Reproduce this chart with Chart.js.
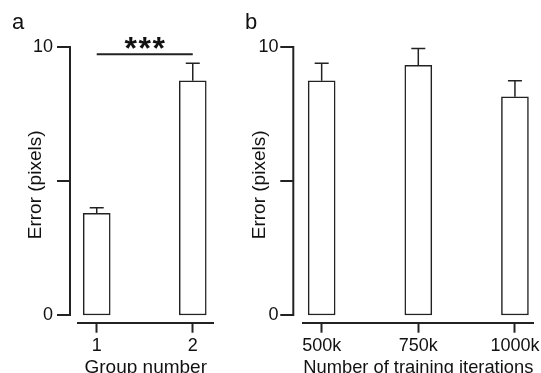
<!DOCTYPE html>
<html>
<head>
<meta charset="utf-8">
<script src="https://cdn.jsdelivr.net/npm/chart.js@4.4.1/dist/chart.umd.min.js"></script>
<style>
  html, body { margin: 0; padding: 0; background: #fff; }
  #wrap { position: relative; width: 541px; height: 373px; overflow: hidden; }
  canvas { position: absolute; top: 0; }
  #chartA { left: 0; }
  #chartB { left: 230px; }
</style>
</head>
<body>
<div id="wrap">
  <canvas id="chartA" width="230" height="373"></canvas>
  <canvas id="chartB" width="311" height="373"></canvas>
</div>
<script>
// panel a
const groupLabels = ["1", "2"];
const groupMeans = [3.79, 8.74];
const groupErrors = [0.21, 0.65];

// panel b
const iterationLabels = ["500k", "750k", "1000k"];
const iterationMeans = [8.74, 9.32, 8.14];
const iterationErrors = [0.65, 0.62, 0.6];

// shared y axis
const yTickValues = [0, 5, 10];
const yTickLabels = ["0", "", "10"];

// significance marker between group 1 and 2
const sigGroups = [1, 2];
const sigLevel = 9.73;
const sigText = "***";

const FONT = "'Liberation Sans', Arial, sans-serif";
const INK = "#222";
const tickFont = { family: FONT, size: 18 };
const titleFont = { family: FONT, size: 19 };

const panelDecor = {
  id: "panelDecor",
  afterDraw(chart, args, opts) {
    const ctx = chart.ctx;
    const xs = chart.scales.x;
    const ys = chart.scales.y;
    const values = chart.data.datasets[0].data;
    ctx.save();
    ctx.strokeStyle = INK;
    ctx.fillStyle = "#111";

    // error bars (upper only)
    ctx.lineWidth = 1.5;
    chart.getDatasetMeta(0).data.forEach((bar, i) => {
      const top = ys.getPixelForValue(values[i].y + opts.errors[i]);
      ctx.beginPath();
      ctx.moveTo(bar.x, bar.y);
      ctx.lineTo(bar.x, top);
      ctx.moveTo(bar.x - 7, top);
      ctx.lineTo(bar.x + 7, top);
      ctx.stroke();
    });

    // detached y spine with ticks
    const sx = chart.chartArea.left - opts.spineGap;
    const y0 = ys.getPixelForValue(yTickValues[0]);
    const y1 = ys.getPixelForValue(yTickValues[yTickValues.length - 1]);
    ctx.lineWidth = 2;
    ctx.lineJoin = "miter";
    ctx.beginPath();
    ctx.moveTo(sx - 13, y1);
    ctx.lineTo(sx, y1);
    ctx.lineTo(sx, y0);
    ctx.lineTo(sx - 13, y0);
    yTickValues.slice(1, -1).forEach(v => {
      const py = ys.getPixelForValue(v);
      ctx.moveTo(sx - 13, py);
      ctx.lineTo(sx, py);
    });
    ctx.stroke();

    // significance bar
    if (opts.sig) {
      const py = ys.getPixelForValue(sigLevel);
      const xa = xs.getPixelForValue(sigGroups[0]);
      const xb = xs.getPixelForValue(sigGroups[1]);
      ctx.beginPath();
      ctx.moveTo(xa, py);
      ctx.lineTo(xb, py);
      ctx.stroke();
      ctx.font = `bold 32px ${FONT}`;
      ctx.textAlign = "center";
      ctx.textBaseline = "alphabetic";
      const mid = (xa + xb) / 2;
      const chars = sigText.split("");
      chars.forEach((c, i) => {
        ctx.fillText(c, mid + (i - (chars.length - 1) / 2) * 14, py + 5);
      });
    }

    // panel letter
    ctx.font = `22px ${FONT}`;
    ctx.textAlign = "left";
    ctx.textBaseline = "alphabetic";
    ctx.fillText(opts.letter, opts.letterX, 29);
    ctx.restore();
  }
};

function makePanel(id, labels, means, errors, cfg) {
  return new Chart(document.getElementById(id), {
    type: "bar",
    data: {
      datasets: [{
        data: means.map((v, i) => ({ x: i + 1, y: v })),
        backgroundColor: "#fff",
        borderColor: INK,
        borderWidth: 1.5,
        borderSkipped: false,
        barThickness: 27
      }]
    },
    options: {
      responsive: false,
      animation: false,
      events: [],
      layout: { padding: { left: 0, top: 47, right: cfg.padRight, bottom: 0 } },
      plugins: {
        legend: { display: false },
        tooltip: { enabled: false },
        panelDecor: {
          errors: errors,
          spineGap: cfg.spineGap,
          letter: cfg.letter,
          letterX: cfg.letterX,
          sig: cfg.sig
        }
      },
      scales: {
        x: {
          type: "linear",
          offset: false,
          min: cfg.xMin,
          max: cfg.xMax,
          afterBuildTicks: s => { s.ticks = labels.map((_, i) => ({ value: i + 1 })); },
          afterFit: s => { s.height = 50.3; s.paddingLeft = 0; s.paddingRight = 0; },
          ticks: {
            callback: v => labels[v - 1],
            font: tickFont,
            color: "#111",
            padding: 3,
            maxRotation: 0,
            autoSkip: false
          },
          grid: {
            display: true,
            offset: false,
            drawOnChartArea: false,
            drawTicks: true,
            tickLength: 10,
            tickWidth: 2,
            tickColor: INK,
            color: INK
          },
          border: { display: true, color: INK, width: 2 },
          title: {
            display: true,
            text: cfg.xTitle,
            color: "#111",
            font: { family: FONT, size: 19, lineHeight: 0.6 },
            padding: 0
          }
        },
        y: {
          min: -0.287,
          max: 10,
          afterBuildTicks: s => { s.ticks = yTickValues.map(v => ({ value: v })); },
          afterFit: s => { s.width = cfg.yWidth; s.paddingTop = 0; s.paddingBottom = 0; },
          ticks: {
            callback: v => yTickLabels[yTickValues.indexOf(v)],
            font: tickFont,
            color: "#111",
            padding: cfg.yTickPad
          },
          grid: { display: false, drawTicks: false },
          border: { display: false },
          title: {
            display: true,
            text: "Error (pixels)",
            color: "#111",
            font: titleFont,
            padding: { top: cfg.yTitlePad, bottom: 0 }
          }
        }
      }
    },
    plugins: [panelDecor]
  });
}

makePanel("chartA", groupLabels, groupMeans, groupErrors, {
  letter: "a", letterX: 12, sig: true,
  xMin: 0.805, xMax: 2.216, padRight: 16.5,
  yWidth: 78, yTickPad: 25, yTitlePad: 24.6, spineGap: 8,
  xTitle: "Group number"
});

makePanel("chartB", iterationLabels, iterationMeans, iterationErrors, {
  letter: "b", letterX: 15, sig: false,
  xMin: 0.81, xMax: 3.19, padRight: 7.7,
  yWidth: 73.3, yTickPad: 24.8, yTitlePad: 18.6, spineGap: 10,
  xTitle: "Number of training iterations"
});
</script>
</body>
</html>
